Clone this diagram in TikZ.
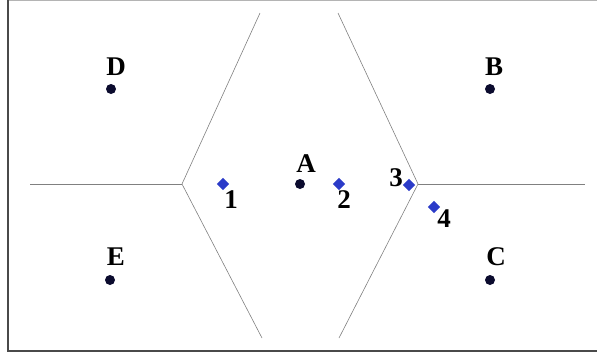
\documentclass[tikz,border=0pt]{standalone}
\usepackage{fontspec}
\setmainfont{Liberation Serif}
\usetikzlibrary{shapes.geometric,calc}
\definecolor{Site}{HTML}{0B0B2E}
\definecolor{Probe}{HTML}{2B3BC8}
\definecolor{Edge}{HTML}{808080}
\definecolor{Frame}{HTML}{4A4A4A}
\definecolor{FrameTop}{HTML}{B4B4B4}
\tikzset{
  site/.style={circle, fill=Site, inner sep=0pt, minimum size=10pt},
  probe/.style={diamond, fill=Probe, inner sep=0pt, minimum size=12.5pt},
  lbl/.style={font=\bfseries\fontsize{27}{27}\selectfont, text=black, inner sep=0pt},
  cell/.style={draw=Edge, line width=0.6pt},
}

\begin{document}
\begin{tikzpicture}[x=1pt, y=-1pt]
  \useasboundingbox (0,0) rectangle (597,357);
  % frame
  \draw[FrameTop, line width=1pt] (8,0.5) -- (597,0.5);
  \draw[Frame, line width=1.6pt] (8,0) -- (8,351) -- (597,351);

  % voronoi edges
  \coordinate (vl) at (182,184);
  \coordinate (vr) at (418,184);
  \coordinate (wl) at (30,184);
  \coordinate (wr) at (585,184);
  \coordinate (tl) at (260,13);
  \coordinate (bl) at (262,338);
  \coordinate (tr) at (338,13);
  \coordinate (br) at (339,338);
  \draw[cell] (wl) -- (vl);
  \draw[cell] (tl) -- (vl) -- (bl);
  \draw[cell] (tr) -- (vr) -- (br);
  \draw[cell] (vr) -- (wr);

  % sites
  \node[site] (A) at (300,184) {};
  \node[site] (B) at (490,89) {};
  \node[site] (C) at (490,280) {};
  \node[site] (D) at (111,89) {};
  \node[site] (E) at (110,280) {};
  \node[lbl] (lA) at ($(A)+(6,-20)$) {A};
  \node[lbl] (lB) at ($(B)+(4,-22)$) {B};
  \node[lbl] (lC) at ($(C)+(6,-23)$) {C};
  \node[lbl] (lD) at ($(D)+(5,-22)$) {D};
  \node[lbl] (lE) at ($(E)+(6,-23)$) {E};

  % query points
  \node[probe] (p1) at (223,184) {};
  \node[probe] (p2) at (339,184) {};
  \node[probe] (p3) at (409,185) {};
  \node[probe] (p4) at (434,207) {};
  \node[lbl] (l1) at ($(p1)+(8,16)$) {1};
  \node[lbl] (l2) at ($(p2)+(5,16)$) {2};
  \node[lbl] (l3) at ($(p3)+(-13,-7)$) {3};
  \node[lbl] (l4) at ($(p4)+(10,12)$) {4};
\end{tikzpicture}
\end{document}
